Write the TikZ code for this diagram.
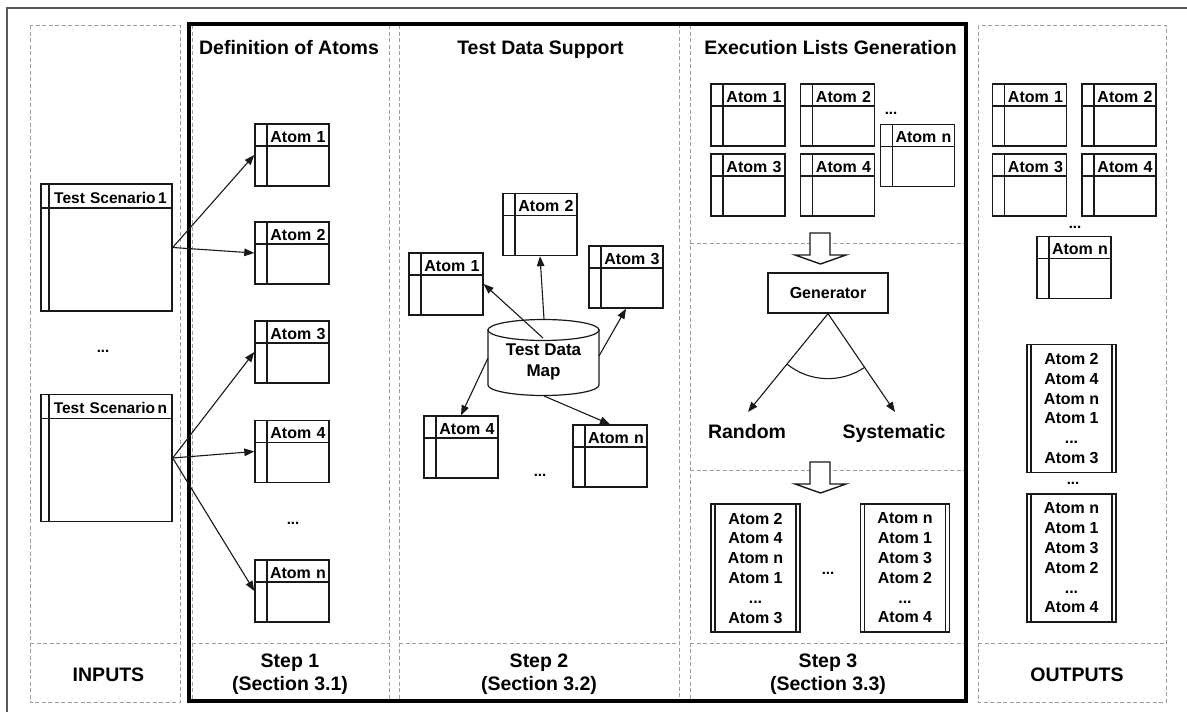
\documentclass[tikz,border=0pt]{standalone}
\usepackage{fontspec}
\setmainfont{Liberation Sans}
\usetikzlibrary{arrows.meta}
\definecolor{dashgray}{gray}{0.62}
\definecolor{framegray}{gray}{0.35}
\definecolor{ink}{gray}{0.1}
\tikzset{
  colbox/.style={draw=dashgray, line width=0.8pt, dash pattern=on 4pt off 2.5pt},
  lbl/.style={font=\bfseries\fontsize{19.5}{23}\selectfont, inner sep=0pt, anchor=base},
  dots/.style={font=\bfseries\fontsize{15}{18}\selectfont, inner sep=0pt},
  conn/.style={draw=ink, line width=1.1pt, -{Triangle[length=10pt,width=7.5pt]}},
  atom/.style={draw=ink, line width=1.4pt, fill=white, inner sep=0pt,
    minimum width=74pt, minimum height=62pt, text width=74pt, align=center,
    text height=18pt, text depth=44pt, font=\bfseries\fontsize{16}{18}\selectfont,
    path picture={
      \draw[ink, line width=1.4pt] ([yshift=-22pt]path picture bounding box.north west)
        -- ([yshift=-22pt]path picture bounding box.north east);
      \draw[ink, line width=1.4pt] ([xshift=12pt]path picture bounding box.north west)
        -- ([xshift=12pt]path picture bounding box.south west);}},
  scen/.style={draw=ink, line width=1.4pt, fill=white, inner sep=0pt,
    minimum width=131pt, minimum height=127pt, text width=131pt, align=center,
    text height=19pt, text depth=108pt, font=\bfseries\fontsize{15.5}{18}\selectfont,
    path picture={
      \draw[ink, line width=1.4pt] ([yshift=-24pt]path picture bounding box.north west)
        -- ([yshift=-24pt]path picture bounding box.north east);
      \draw[ink, line width=1.4pt] ([xshift=8pt]path picture bounding box.north west)
        -- ([xshift=8pt]path picture bounding box.south west);}},
  listbox/.style={draw=ink, line width=1.4pt, fill=white, inner sep=0pt,
    minimum width=89pt, minimum height=128pt, align=center,
    font=\bfseries\fontsize{16}{19.8}\selectfont,
    path picture={
      \draw[ink, line width=1.4pt] ([xshift=4pt]path picture bounding box.north west)
        -- ([xshift=4pt]path picture bounding box.south west);
      \draw[ink, line width=1.4pt] ([xshift=-4pt]path picture bounding box.north east)
        -- ([xshift=-4pt]path picture bounding box.south east);}},
  blockarrow/.style={draw=ink, line width=1.4pt, fill=white, line join=miter},
}
\begin{document}
\begin{tikzpicture}[x=1pt, y=-1pt]
\useasboundingbox (0,0) rectangle (1187,712);
\fill[white] (0,0) rectangle (1187,712);

% outer frame
\draw[framegray, line width=1.2pt] (7,712) -- (7,8) -- (1187,8);

% dashed columns
\draw[colbox] (30,25) rectangle (180,702);
\draw[colbox] (30,643) -- (180,643);
\draw[colbox] (192,25) rectangle (389,702);
\draw[colbox] (192,643) -- (389,643);
\draw[colbox] (399,25) rectangle (679,702);
\draw[colbox] (399,643) -- (679,643);
\draw[colbox] (690,25) rectangle (964,702);
\draw[colbox] (690,243) -- (964,243);
\draw[colbox] (690,470) -- (964,470);
\draw[colbox] (690,643) -- (964,643);
\draw[colbox] (978,25) rectangle (1166,702);
\draw[colbox] (978,643) -- (1166,643);

% the three steps
\draw[black, line width=4pt] (189,23.5) rectangle (966,701);

% column titles
\node[lbl] (t1) at (289,54) {Definition of Atoms};
\node[lbl] (t2) at (540.5,54) {Test Data Support};
\node[lbl] (t3) at (830.5,54) {Execution Lists Generation};

% column footers
\node[lbl] (f0) at (108.5,681.5) {INPUTS};
\node[lbl] (f1a) at (290,667) {Step 1};
\node[lbl] (f1b) at (290,690.5) {(Section 3.1)};
\node[lbl] (f2a) at (539,667) {Step 2};
\node[lbl] (f2b) at (539,690.5) {(Section 3.2)};
\node[lbl] (f3a) at (828,667) {Step 3};
\node[lbl] (f3b) at (828,690.5) {(Section 3.3)};
\node[lbl] (f4) at (1077,681.5) {OUTPUTS};

% inputs
\node[scen] (ts1) at (106.5,247.5) {\hspace*{8pt}Test Scenario\,1};
\node[dots] (tsdots) at (103,351) {...};
\node[scen] (tsn) at (106.5,458) {\hspace*{8pt}Test Scenario\,n};

% step 1: definition of atoms
\node[atom] (a1) at (292,155) {\hspace*{12pt}Atom 1};
\node[atom] (a2) at (292,253) {\hspace*{12pt}Atom 2};
\node[atom] (a3) at (292,352) {\hspace*{12pt}Atom 3};
\node[atom] (a4) at (292,451.5) {\hspace*{12pt}Atom 4};
\node[dots] (adots) at (293,523) {...};
\node[atom] (an) at (292,591) {\hspace*{12pt}Atom n};

\draw[conn] (ts1.east) -- (a1.west);
\draw[conn] (ts1.east) -- (a2.west);
\draw[conn] (tsn.east) -- (a3.west);
\draw[conn] (tsn.east) -- (a4.west);
\draw[conn] (tsn.east) -- (an.west);

% step 2: test data support
\node[atom] (d1) at (446,284) {\hspace*{12pt}Atom 1};
\node[atom] (d2) at (540,224.5) {\hspace*{12pt}Atom 2};
\node[atom] (d3) at (626,277) {\hspace*{12pt}Atom 3};
\node[atom] (d4) at (461,447) {\hspace*{12pt}Atom 4};
\node[atom] (dn) at (610,456) {\hspace*{12pt}Atom n};
\node[dots] (ddots) at (540,475) {...};

% data map cylinder
\draw[ink, line width=1.2pt, fill=white] (488,330) -- (488,385)
  arc[start angle=180, end angle=360, x radius=55.5pt, y radius=10.5pt]
  -- (599,330) -- cycle;
\draw[ink, line width=1.2pt, fill=white] (543.5,330) ellipse[x radius=55.5pt, y radius=10.5pt];
\node[font=\bfseries\fontsize{17}{21}\selectfont, align=center, inner sep=0pt] (map) at (543.5,362) {Test Data\\Map};
\coordinate (mapTop) at (544,319);
\coordinate (mapUpper) at (543,338);
\coordinate (mapRight) at (599,356);
\coordinate (mapLeft) at (488,358);
\coordinate (mapBottom) at (544,396);

\draw[conn] (mapUpper) -- (d1.east);
\draw[conn] (mapTop) -- (d2.south);
\draw[conn] (mapRight) -- (d3.south);
\draw[conn] (mapLeft) -- (d4.north);
\draw[conn] (mapBottom) -- (dn.north);

% step 3: execution lists generation
\node[atom] (e1) at (748,115) {\hspace*{12pt}Atom 1};
\node[atom] (e2) at (837.5,115) {\hspace*{12pt}Atom 2};
\node[atom] (e3) at (748,185) {\hspace*{12pt}Atom 3};
\node[atom] (e4) at (837.5,185) {\hspace*{12pt}Atom 4};
\node[atom] (en) at (917.5,155.5) {\hspace*{12pt}Atom n};
\node[dots] (edots) at (891,113) {...};

\draw[blockarrow] (810,233) -- (830,233) -- (830,255) -- (846,255) -- (820.5,264)
  -- (795,255) -- (810,255) -- cycle;

\node[draw=ink, line width=1.3pt, fill=white, minimum width=120pt, minimum height=40pt,
  inner sep=0pt, font=\bfseries\fontsize{16}{19}\selectfont] (gen) at (828,293) {Generator};
\coordinate (rtip) at (748,412);
\coordinate (stip) at (895,412);
\draw[conn] (gen.south) -- (rtip);
\draw[conn] (gen.south) -- (stip);
\draw[ink, line width=1.1pt] ([shift={(231.06:65pt)}]gen.south)
  arc[start angle=231.06, end angle=304.09, radius=65pt];
\node[lbl] (rnd) at (747,438) {Random};
\node[lbl] (sys) at (894,438) {Systematic};

\draw[blockarrow] (810,462) -- (830,462) -- (830,484) -- (846,484) -- (820.5,493)
  -- (795,484) -- (810,484) -- cycle;

\node[listbox] (l1) at (755.5,568) {Atom 2\\Atom 4\\Atom n\\Atom 1\\...\\Atom 3};
\node[dots] (ldots) at (828,573) {...};
\node[listbox] (l2) at (905,568) {Atom n\\Atom 1\\Atom 3\\Atom 2\\...\\Atom 4};

% outputs
\node[atom] (o1) at (1029.5,115) {\hspace*{12pt}Atom 1};
\node[atom] (o2) at (1119,115) {\hspace*{12pt}Atom 2};
\node[atom] (o3) at (1029.5,185) {\hspace*{12pt}Atom 3};
\node[atom] (o4) at (1119,185) {\hspace*{12pt}Atom 4};
\node[dots] (odots) at (1075,227) {...};
\node[atom] (on) at (1074,267.5) {\hspace*{12pt}Atom n};

\node[listbox] (ol1) at (1071.5,408.5) {Atom 2\\Atom 4\\Atom n\\Atom 1\\...\\Atom 3};
\node[dots] (oldots) at (1073,483) {...};
\node[listbox] (ol2) at (1071.5,558) {Atom n\\Atom 1\\Atom 3\\Atom 2\\...\\Atom 4};
\end{tikzpicture}
\end{document}
